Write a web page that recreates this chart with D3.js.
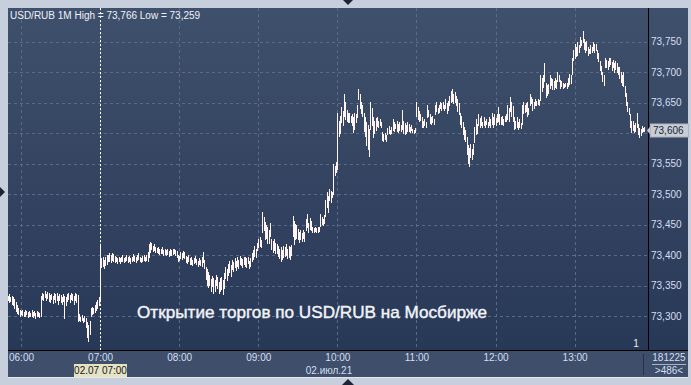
<!DOCTYPE html>
<html>
<head>
<meta charset="utf-8">
<script src="https://cdn.jsdelivr.net/npm/d3@7"></script>
<style>
  body { margin: 0; background: #c6cfdb; }
  svg { display: block; font-family: "Liberation Sans", Arial, sans-serif; }
</style>
</head>
<body>
<svg id="chart" width="691" height="385"></svg>
<script>
  // ============================================================
  // Data (USD/RUB, 1-minute bars, 02.07.2021 from 05:50)
  // ============================================================

  const symbol = "USD/RUB";
  const period = "1M";
  const barStart = new Date(2021, 6, 2, 5, 50);
  const cursorTime = new Date(2021, 6, 2, 7, 0);
  const lastPrice = 73.606;
  const yTicks = [73.30, 73.35, 73.40, 73.45, 73.50, 73.55, 73.60, 73.65, 73.70, 73.75];
  const annotation = "Открытие торгов по USD/RUB на Мосбирже";
  const dateLabel = "02.июл.21";
  const cursorLabel = "02.07 07:00";
  const infoTop = "181225";
  const infoBottom = ">486<";

  const highs = [
    73.333,73.335,73.331,73.333,73.330,73.328,73.322,73.318,73.312,73.310,
    73.308,73.309,73.306,73.310,73.307,73.306,73.308,73.305,73.309,73.306,
    73.307,73.304,73.308,73.306,73.305,73.333,73.338,73.336,73.340,73.335,
    73.339,73.337,73.334,73.336,73.333,73.338,73.335,73.337,73.332,73.336,
    73.334,73.331,73.336,73.333,73.330,73.335,73.337,73.334,73.338,73.336,
    73.333,73.337,73.335,73.334,73.302,73.298,73.301,73.297,73.300,73.296,
    73.290,73.284,73.292,73.312,73.315,73.313,73.318,73.322,73.326,73.331,
    73.414,73.395,73.397,73.392,73.396,73.399,73.400,73.402,73.399,73.403,
    73.401,73.398,73.396,73.395,73.397,73.394,73.396,73.399,73.395,73.397,
    73.400,73.396,73.398,73.395,73.397,73.401,73.398,73.396,73.399,73.402,
    73.397,73.395,73.398,73.400,73.397,73.399,73.404,73.418,73.421,73.419,
    73.415,73.417,73.413,73.411,73.412,73.409,73.410,73.412,73.408,73.410,
    73.407,73.409,73.406,73.410,73.408,73.409,73.410,73.408,73.406,73.400,
    73.398,73.405,73.403,73.406,73.404,73.398,73.396,73.399,73.394,73.396,
    73.392,73.395,73.398,73.393,73.390,73.394,73.391,73.396,73.405,73.392,
    73.380,73.377,73.372,73.366,73.360,73.365,73.362,73.358,73.366,73.363,
    73.355,73.362,73.364,73.358,73.370,73.380,73.376,73.385,73.390,73.383,
    73.392,73.388,73.394,73.390,73.396,73.392,73.398,73.395,73.393,73.397,
    73.396,73.394,73.397,73.390,73.395,73.403,73.408,73.414,73.410,73.420,
    73.425,73.429,73.424,73.470,73.462,73.454,73.448,73.445,73.440,73.452,
    73.426,73.422,73.425,73.420,73.418,73.414,73.410,73.412,73.408,73.414,
    73.413,73.418,73.410,73.415,73.412,73.416,73.463,73.455,73.450,73.448,
    73.442,73.438,73.440,73.436,73.441,73.437,73.459,73.467,73.452,73.460,
    73.455,73.445,73.444,73.445,73.443,73.446,73.445,73.467,73.462,73.458,
    73.465,73.490,73.503,73.496,73.508,73.505,73.503,73.548,73.545,73.552,
    73.633,73.619,73.628,73.642,73.636,73.663,73.650,73.638,73.632,73.633,
    73.628,73.631,73.625,73.633,73.630,73.645,73.671,73.663,73.650,73.645,
    73.633,73.625,73.617,73.612,73.606,73.651,73.640,73.625,73.620,73.624,
    73.625,73.620,73.623,73.618,73.601,73.598,73.600,73.597,73.608,73.611,
    73.605,73.609,73.622,73.618,73.615,73.619,73.614,73.617,73.612,73.638,
    73.619,73.616,73.612,73.618,73.614,73.610,73.612,73.606,73.605,73.608,
    73.651,73.642,73.636,73.631,73.625,73.620,73.623,73.618,73.646,73.638,
    73.630,73.625,73.628,73.622,73.645,73.651,73.640,73.646,73.651,73.648,
    73.650,73.645,73.655,73.648,73.652,73.660,73.668,73.671,73.664,73.667,
    73.660,73.655,73.648,73.633,73.628,73.617,73.610,73.605,73.593,73.580,
    73.575,73.581,73.573,73.581,73.610,73.622,73.615,73.630,73.624,73.628,
    73.618,73.625,73.620,73.623,73.617,73.625,73.622,73.633,73.626,73.630,
    73.624,73.630,73.642,73.630,73.625,73.627,73.622,73.628,73.630,73.646,
    73.640,73.658,73.650,73.643,73.625,73.620,73.625,73.618,73.622,73.616,
    73.646,73.651,73.645,73.648,73.650,73.640,73.663,73.658,73.655,73.650,
    73.655,73.652,73.656,73.653,73.695,73.690,73.695,73.715,73.682,73.678,
    73.680,73.695,73.690,73.688,73.685,73.690,73.686,73.700,73.695,73.687,
    73.684,73.682,73.680,73.682,73.681,73.690,73.696,73.694,73.723,73.735,
    73.745,73.740,73.748,73.744,73.757,73.752,73.766,73.753,73.748,73.750,
    73.741,73.738,73.743,73.740,73.748,73.745,73.746,73.736,73.730,73.717,
    73.710,73.700,73.695,73.723,73.720,73.718,73.722,73.723,73.716,73.720,
    73.714,73.718,73.715,73.708,73.707,73.700,73.695,73.700,73.677,73.665,
    73.651,73.640,73.630,73.620,73.619,73.612,73.616,73.633,73.614,73.608,
    73.606,73.611,73.608,73.610
  ];

  const lows = [
    73.325,73.322,73.324,73.320,73.318,73.312,73.308,73.305,73.303,73.300,
    73.302,73.301,73.299,73.300,73.302,73.298,73.300,73.299,73.300,73.298,
    73.301,73.297,73.299,73.300,73.298,73.300,73.328,73.325,73.330,73.326,
    73.329,73.324,73.322,73.327,73.321,73.328,73.323,73.326,73.320,73.326,
    73.322,73.319,73.324,73.296,73.318,73.324,73.327,73.322,73.328,73.325,
    73.320,73.326,73.323,73.292,73.293,73.292,73.293,73.290,73.292,73.282,
    73.265,73.259,73.270,73.300,73.303,73.304,73.306,73.310,73.313,73.318,
    73.325,73.380,73.382,73.378,73.383,73.384,73.389,73.390,73.388,73.391,
    73.389,73.388,73.389,73.387,73.390,73.386,73.389,73.390,73.388,73.389,
    73.391,73.388,73.390,73.387,73.389,73.392,73.390,73.388,73.391,73.393,
    73.390,73.388,73.389,73.391,73.389,73.392,73.390,73.396,73.405,73.410,
    73.406,73.408,73.405,73.404,73.403,73.401,73.402,73.403,73.400,73.401,
    73.399,73.401,73.398,73.400,73.399,73.401,73.402,73.400,73.396,73.390,
    73.392,73.395,73.393,73.397,73.394,73.388,73.386,73.390,73.384,73.385,
    73.383,73.386,73.388,73.384,73.382,73.385,73.383,73.381,73.388,73.378,
    73.360,73.350,73.347,73.350,73.340,73.348,73.338,73.341,73.350,73.345,
    73.337,73.340,73.343,73.336,73.345,73.362,73.358,73.366,73.372,73.365,
    73.376,73.374,73.380,73.375,73.382,73.378,73.384,73.383,73.380,73.385,
    73.382,73.380,73.386,73.378,73.382,73.390,73.393,73.398,73.396,73.408,
    73.413,73.415,73.413,73.438,73.440,73.425,73.428,73.420,73.419,73.430,
    73.410,73.405,73.408,73.402,73.403,73.398,73.394,73.390,73.393,73.396,
    73.398,73.400,73.395,73.397,73.393,73.400,73.430,73.418,73.425,73.428,
    73.425,73.421,73.426,73.422,73.428,73.423,73.440,73.445,73.437,73.442,
    73.440,73.438,73.437,73.439,73.437,73.438,73.439,73.447,73.450,73.448,
    73.452,73.463,73.478,73.470,73.490,73.486,73.495,73.500,73.530,73.535,
    73.540,73.594,73.600,73.617,73.612,73.627,73.622,73.619,73.617,73.618,
    73.617,73.612,73.601,73.606,73.618,73.625,73.655,73.640,73.633,73.628,
    73.603,73.594,73.580,73.573,73.561,73.606,73.612,73.593,73.600,73.605,
    73.611,73.609,73.612,73.609,73.588,73.586,73.589,73.587,73.598,73.600,
    73.598,73.599,73.605,73.603,73.607,73.603,73.601,73.604,73.602,73.606,
    73.600,73.598,73.600,73.602,73.603,73.601,73.604,73.601,73.600,73.601,
    73.627,73.622,73.619,73.621,73.610,73.609,73.612,73.610,73.625,73.628,
    73.616,73.614,73.617,73.614,73.630,73.635,73.632,73.634,73.640,73.638,
    73.641,73.638,73.640,73.633,73.638,73.646,73.650,73.652,73.648,73.650,
    73.646,73.635,73.630,73.615,73.609,73.598,73.590,73.586,73.565,73.550,
    73.545,73.560,73.557,73.565,73.585,73.598,73.600,73.612,73.609,73.613,
    73.609,73.612,73.610,73.614,73.609,73.612,73.610,73.615,73.609,73.614,
    73.612,73.617,73.620,73.614,73.614,73.615,73.612,73.619,73.620,73.622,
    73.619,73.635,73.628,73.619,73.606,73.608,73.610,73.606,73.609,73.607,
    73.614,73.633,73.634,73.636,73.627,73.630,73.646,73.648,73.638,73.640,
    73.646,73.645,73.647,73.646,73.654,73.668,73.675,73.684,73.658,73.662,
    73.665,73.674,73.678,73.671,73.672,73.675,73.673,73.684,73.685,73.674,
    73.676,73.674,73.675,73.676,73.674,73.677,73.680,73.682,73.696,73.720,
    73.723,73.726,73.728,73.733,73.741,73.744,73.748,73.738,73.733,73.736,
    73.728,73.730,73.731,73.733,73.735,73.733,73.736,73.722,73.717,73.702,
    73.696,73.685,73.679,73.707,73.708,73.705,73.710,73.712,73.703,73.708,
    73.700,73.704,73.700,73.696,73.690,73.683,73.679,73.677,73.660,73.646,
    73.636,73.630,73.610,73.601,73.605,73.601,73.603,73.609,73.598,73.593,
    73.596,73.601,73.602,73.603
  ];

  // ============================================================
  // Layout
  // ============================================================

  const svg = d3.select("#chart");
  const plot = { left: 8, top: 8, right: 648, bottom: 350 };
  const axisRight = 688;
  const stripBottom = 377;
  const labelColor = "#d3dff0";

  const bars = highs.map((h, i) => ({
    time: d3.timeMinute.offset(barStart, i),
    high: h,
    low: lows[i]
  }));

  const x = d3.scaleTime()
    .domain([new Date(2021, 6, 2, 6, 0), new Date(2021, 6, 2, 13, 0)])
    .range([21, 574.6]);

  const y = d3.scaleLinear()
    .domain([73.30, 73.75])
    .range([316.2, 41.7]);

  const priceFmt = v => d3.format(".3f")(v).replace(".", ",");

  // Background gradient
  const defs = svg.append("defs");
  const grad = defs.append("linearGradient")
    .attr("id", "bg").attr("x1", 0).attr("x2", 0).attr("y1", 0).attr("y2", 1);
  grad.append("stop").attr("offset", "0%").attr("stop-color", "#3f506c");
  grad.append("stop").attr("offset", "100%").attr("stop-color", "#283857");

  svg.append("rect")
    .attr("x", plot.left).attr("y", plot.top)
    .attr("width", axisRight - plot.left).attr("height", plot.bottom - plot.top)
    .attr("fill", "url(#bg)");

  // Bottom time strip
  svg.append("rect")
    .attr("x", plot.left).attr("y", plot.bottom)
    .attr("width", axisRight - plot.left).attr("height", stripBottom - plot.bottom)
    .attr("fill", "#3e4e6b");
  svg.append("line")
    .attr("x1", plot.left).attr("x2", axisRight)
    .attr("y1", stripBottom + 0.5).attr("y2", stripBottom + 0.5)
    .attr("stroke", "#e3e8ef");

  // Grid
  const grid = svg.append("g").attr("class", "grid")
    .attr("stroke", "#5a6a87").attr("stroke-dasharray", "3,3")
    .attr("shape-rendering", "crispEdges");
  grid.selectAll(".gy").data(yTicks).enter().append("line")
    .attr("x1", plot.left).attr("x2", plot.right)
    .attr("y1", d => Math.round(y(d)) + 0.5).attr("y2", d => Math.round(y(d)) + 0.5);
  const hourTicks = x.ticks(d3.timeHour.every(1));
  grid.selectAll(".gx").data(hourTicks).enter().append("line")
    .attr("y1", plot.top).attr("y2", plot.bottom)
    .attr("x1", d => Math.round(x(d)) + 0.5).attr("x2", d => Math.round(x(d)) + 0.5);

  // Cursor line
  svg.append("line")
    .attr("x1", Math.round(x(cursorTime)) + 0.5).attr("x2", Math.round(x(cursorTime)) + 0.5)
    .attr("y1", plot.top).attr("y2", plot.bottom)
    .attr("stroke", "#ffffff").attr("stroke-dasharray", "2,2")
    .attr("shape-rendering", "crispEdges");

  // Price bars
  svg.append("g").attr("class", "bars")
    .attr("stroke", "#fff4f0").attr("stroke-width", 1)
    .attr("shape-rendering", "crispEdges")
    .selectAll("line").data(bars).enter().append("line")
    .attr("x1", d => Math.round(x(d.time)) + 0.5)
    .attr("x2", d => Math.round(x(d.time)) + 0.5)
    .attr("y1", d => y(d.high) - 0.5)
    .attr("y2", d => y(d.low) + 0.5);

  // Frame lines
  svg.append("line")
    .attr("x1", plot.right + 0.5).attr("x2", plot.right + 0.5)
    .attr("y1", plot.top).attr("y2", plot.bottom)
    .attr("stroke", "#000");
  svg.append("line")
    .attr("x1", plot.left).attr("x2", axisRight)
    .attr("y1", plot.bottom + 0.5).attr("y2", plot.bottom + 0.5)
    .attr("stroke", "#000");

  // Right price axis (the label under the last-price box is covered by it)
  const labelTicks = yTicks.filter(v => Math.abs(y(v) - y(lastPrice)) > 8);
  const yAxis = svg.append("g")
    .attr("transform", `translate(${plot.right},0)`)
    .call(d3.axisRight(y).tickValues(labelTicks).tickFormat(priceFmt).tickSize(0).tickPadding(3));
  yAxis.select(".domain").remove();
  yAxis.selectAll("text")
    .attr("fill", labelColor).attr("font-size", 10)
    .attr("font-family", "Liberation Sans, Arial, sans-serif");

  // Bottom time axis
  const xAxis = svg.append("g")
    .attr("transform", `translate(0,${plot.bottom})`)
    .call(d3.axisBottom(x).tickValues(hourTicks).tickFormat(d3.timeFormat("%H:%M")).tickSize(0).tickPadding(4));
  xAxis.select(".domain").remove();
  xAxis.selectAll("text")
    .attr("fill", labelColor).attr("font-size", 10)
    .attr("font-family", "Liberation Sans, Arial, sans-serif");

  // Last price marker
  const ly = Math.round(y(lastPrice)) + 0.5;
  svg.append("path")
    .attr("d", `M${plot.right - 1},${ly} L${plot.right + 3},${ly - 5} L${plot.right + 3},${ly + 5} Z`)
    .attr("fill", "#c9cdd4");
  svg.append("rect")
    .attr("x", plot.right + 2.5).attr("y", ly - 6.5)
    .attr("width", axisRight - plot.right - 2).attr("height", 13)
    .attr("fill", "#c9cdd4").attr("stroke", "#aeb4bf");
  svg.append("text")
    .attr("x", plot.right + 5).attr("y", ly + 3.5)
    .attr("font-size", 10).attr("fill", "#18253e")
    .text(priceFmt(lastPrice));

  // Header
  svg.append("text")
    .attr("x", 10).attr("y", 18.5)
    .attr("font-size", 10).attr("fill", "#eef2f8")
    .text(`${symbol} ${period} High = ${priceFmt(d3.max(highs))} Low = ${priceFmt(d3.min(lows))}`);

  // Annotation
  svg.append("text")
    .attr("x", 312).attr("y", 318)
    .attr("text-anchor", "middle")
    .attr("font-size", 17).attr("fill", "#f2f4f8")
    .attr("stroke", "#f2f4f8").attr("stroke-width", 0.4)
    .attr("textLength", 350).attr("lengthAdjust", "spacingAndGlyphs")
    .text(annotation);

  // Cursor tag
  const cx = Math.round(x(cursorTime));
  svg.append("rect")
    .attr("x", cx - 26).attr("y", 364).attr("width", 53).attr("height", 13)
    .attr("fill", "#e6e2c4");
  svg.append("text")
    .attr("x", cx + 0.5).attr("y", 374).attr("text-anchor", "middle")
    .attr("font-size", 10).attr("fill", "#101820")
    .text(cursorLabel);

  svg.append("text")
    .attr("x", 329).attr("y", 374).attr("text-anchor", "middle")
    .attr("font-size", 10).attr("fill", labelColor)
    .text(dateLabel);

  // Bar counter
  svg.append("text")
    .attr("x", 636).attr("y", 347).attr("text-anchor", "middle")
    .attr("font-size", 10).attr("fill", "#eef2f8")
    .text("1");

  // Info box (bottom right)
  svg.append("line")
    .attr("x1", 643.5).attr("x2", 643.5).attr("y1", 354).attr("y2", 375)
    .attr("stroke", "#26324a");
  svg.append("text")
    .attr("x", 669).attr("y", 361).attr("text-anchor", "middle")
    .attr("font-size", 10).attr("fill", labelColor)
    .text(infoTop);
  svg.append("line")
    .attr("x1", 652).attr("x2", 686).attr("y1", 364.5).attr("y2", 364.5)
    .attr("stroke", "#a9b4c6");
  svg.append("text")
    .attr("x", 669).attr("y", 374).attr("text-anchor", "middle")
    .attr("font-size", 10).attr("fill", labelColor)
    .text(infoBottom);

  // Pane handles
  svg.append("path").attr("d", "M343,0 L353,0 L348,5 Z").attr("fill", "#1d2433");
  svg.append("path").attr("d", "M0,187 L0,197 L5,192 Z").attr("fill", "#1d2433");
  svg.append("path").attr("d", "M342,385 L354,385 L348,379 Z").attr("fill", "#1d2433");
</script>
</body>
</html>
